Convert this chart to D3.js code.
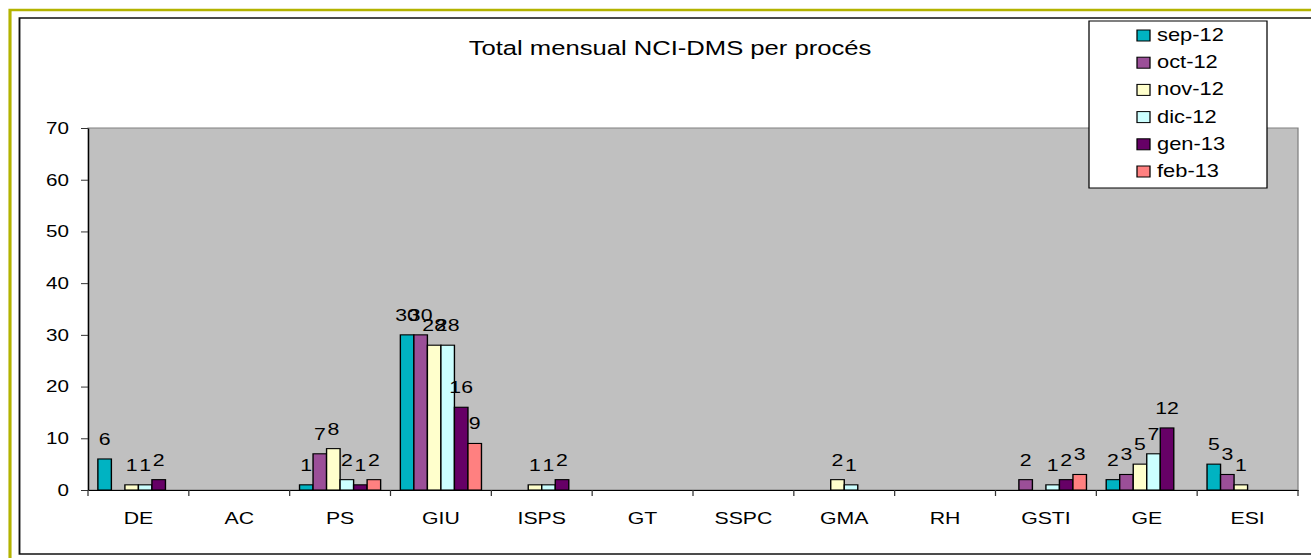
<!DOCTYPE html>
<html>
<head>
<meta charset="utf-8">
<script src="https://cdn.jsdelivr.net/npm/d3@7"></script>
<style>
body { margin: 0; background: #fff; }
svg { display: block; font-family: Arial, "Liberation Sans", sans-serif; }
</style>
</head>
<body>
<svg id="chart"></svg>
<script>
const categories = ["DE", "AC", "PS", "GIU", "ISPS", "GT", "SSPC", "GMA", "RH", "GSTI", "GE", "ESI"];
const months = ["sep-12", "oct-12", "nov-12", "dic-12", "gen-13", "feb-13"];
const colors = ["#00b3c2", "#9b4f98", "#ffffcc", "#ccffff", "#660066", "#ff8080"];
// one value per process, null = empty cell
const sep12 = [6, null, 1, 30, null, null, null, null, null, null, 2, 5];
const oct12 = [null, null, 7, 30, null, null, null, null, null, 2, 3, 3];
const nov12 = [1, null, 8, 28, 1, null, null, 2, null, null, 5, 1];
const dic12 = [1, null, 2, 28, 1, null, null, 1, null, 1, 7, null];
const gen13 = [2, null, 1, 16, 2, null, null, null, null, 2, 12, null];
const feb13 = [null, null, 2, 9, null, null, null, null, null, 3, null, null];
const yTicks = [0, 10, 20, 30, 40, 50, 60, 70];
const title = "Total mensual NCI-DMS per procés";

const WIDTH = 1311, HEIGHT = 558;
const SX = 1.25; // the original picture is stretched sideways
const VW = WIDTH / SX;

const svg = d3.select("#chart")
    .attr("width", WIDTH)
    .attr("height", HEIGHT)
    .attr("viewBox", "0 0 " + VW + " " + HEIGHT)
    .attr("preserveAspectRatio", "none");

const plot = { left: 88 / SX, right: 1298 / SX, top: 128, bottom: 490 };

// frames
svg.append("rect")
    .attr("x", 10 / SX).attr("y", 10)
    .attr("width", VW).attr("height", HEIGHT)
    .attr("fill", "none").attr("stroke", "#b3b300").attr("stroke-width", 2.5);
svg.append("rect")
    .attr("x", 19.5 / SX).attr("y", 18)
    .attr("width", VW).attr("height", 554 - 18)
    .attr("fill", "none").attr("stroke", "#111").attr("stroke-width", 1.5);

svg.append("text")
    .attr("x", 670 / SX).attr("y", 55)
    .attr("text-anchor", "middle")
    .attr("font-size", 20.5)
    .text(title);

var x0 = d3.scaleBand().domain(categories).range([plot.left, plot.right]);
var x1 = d3.scaleBand().domain(months).range([0, x0.bandwidth()]).paddingOuter(0.73);
var y = d3.scaleLinear().domain([0, 70]).range([plot.bottom, plot.top]);

svg.append("rect")
    .attr("x", plot.left).attr("y", plot.top)
    .attr("width", plot.right - plot.left).attr("height", plot.bottom - plot.top)
    .attr("fill", "#c0c0c0").attr("stroke", "#808080").attr("stroke-width", 1);

const series = [sep12, oct12, nov12, dic12, gen13, feb13].map((vals, i) => ({
    name: months[i], color: colors[i], values: vals
}));

const groups = svg.append("g").selectAll("g")
    .data(series)
    .enter().append("g")
    .attr("fill", d => d.color);

groups.selectAll("rect")
    .data(d => categories.map((c, j) => ({ cat: c, month: d.name, v: d.values[j] })).filter(o => o.v !== null))
    .enter().append("rect")
    .attr("x", d => x0(d.cat) + x1(d.month))
    .attr("y", d => y(d.v))
    .attr("width", x1.bandwidth())
    .attr("height", d => y(0) - y(d.v))
    .attr("stroke", "#000")
    .attr("stroke-width", 1.1);

// y axis
var yAxis = svg.append("g")
    .attr("transform", "translate(" + plot.left + ",0)")
    .call(d3.axisLeft(y).tickValues(yTicks).tickSize(7 / SX).tickSizeOuter(0).tickPadding(12 / SX))
    .attr("font-family", null)
    .attr("font-size", 16.5);
yAxis.select(".domain").attr("stroke", "#000");
yAxis.selectAll(".tick line").attr("stroke", "#333");
yAxis.selectAll("text").attr("fill", "#000");

// x axis
var xAxis = svg.append("g")
    .attr("transform", "translate(0," + plot.bottom + ")")
    .call(d3.axisBottom(x0).tickSize(0).tickSizeOuter(0).tickPadding(22))
    .attr("font-family", null)
    .attr("font-size", 17);
xAxis.select(".domain").attr("stroke", "#000").attr("stroke-width", 1.2);
xAxis.selectAll("text").attr("fill", "#000");
xAxis.selectAll(".sep")
    .data(categories.map(c => x0(c)).concat([plot.right]))
    .enter().append("line")
    .attr("class", "sep")
    .attr("x1", d => d).attr("x2", d => d)
    .attr("y1", 0).attr("y2", 6)
    .attr("stroke", "#333");

// data labels
groups.selectAll("text")
    .data(d => categories.map((c, j) => ({ cat: c, month: d.name, v: d.values[j] })).filter(o => o.v !== null))
    .enter().append("text")
    .attr("x", d => x0(d.cat) + x1(d.month) + x1.bandwidth() / 2)
    .attr("y", d => y(d.v) - 14)
    .attr("text-anchor", "middle")
    .attr("font-size", 17)
    .attr("fill", "#000")
    .text(d => d.v);

// legend
var legend = svg.append("g");
legend.append("rect")
    .attr("x", 1089 / SX).attr("y", 21)
    .attr("width", (1267 - 1089) / SX).attr("height", 167)
    .attr("fill", "#fff").attr("stroke", "#000").attr("stroke-width", 1);
var rows = legend.selectAll(".row")
    .data(series)
    .enter().append("g")
    .attr("class", "row")
    .attr("transform", (d, i) => "translate(0," + (41 + i * 27.2) + ")");
rows.append("rect")
    .attr("x", 1137 / SX).attr("y", -11)
    .attr("width", 13 / SX).attr("height", 11)
    .attr("fill", d => d.color)
    .attr("stroke", "#000").attr("stroke-width", 1);
rows.append("text")
    .attr("x", 1157 / SX).attr("y", 0)
    .attr("font-size", 17.5)
    .text(d => d.name);
</script>
</body>
</html>
